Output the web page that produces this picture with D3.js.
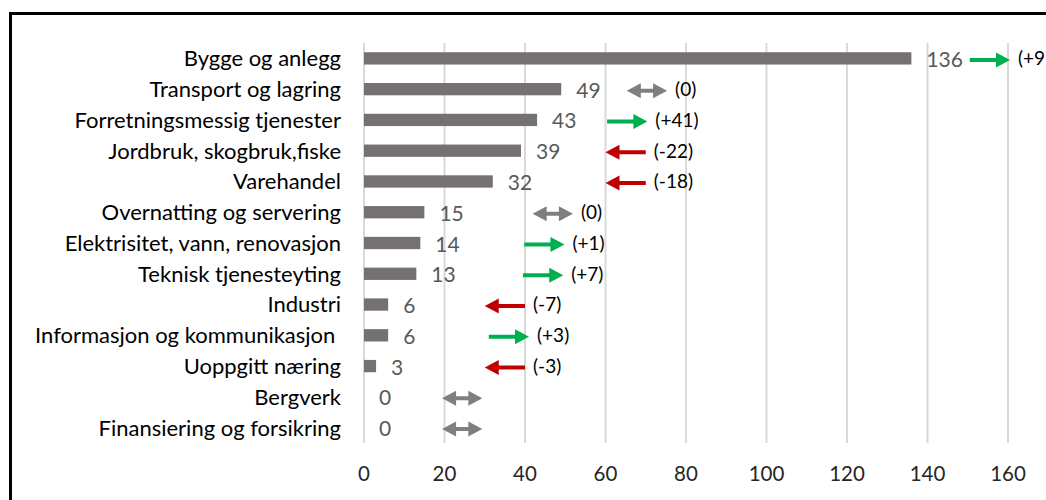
<!DOCTYPE html>
<html>
<head>
<meta charset="utf-8">
<script src="https://cdn.jsdelivr.net/npm/d3@7"></script>
<style>
  body { margin: 0; background: #fff; }
  svg { display: block; font-family: Lato, "Open Sans", sans-serif; }
</style>
</head>
<body>
<svg id="chart" width="1046" height="500"></svg>
<script>
// ---------------- DATA ----------------

const categories = [
  "Bygge og anlegg",
  "Transport og lagring",
  "Forretningsmessig tjenester",
  "Jordbruk, skogbruk,fiske",
  "Varehandel",
  "Overnatting og servering",
  "Elektrisitet, vann, renovasjon",
  "Teknisk tjenesteyting",
  "Industri",
  "Informasjon og kommunikasjon\u00a0",
  "Uoppgitt næring",
  "Bergverk",
  "Finansiering og forsikring",
];
const values = [136, 49, 43, 39, 32, 15, 14, 13, 6, 6, 3, 0, 0];
// change vs. previous period, null = arrow without label
const changes = [97, 0, 41, -22, -18, 0, 1, 7, -7, 3, -3, null, null];
// where each arrow starts, in axis units (hand-placed in the original)
const arrowFrom = [150.5, 65.3, 60.4, 60, 60, 41.9, 39.8, 39.5, 30, 31, 30, 19.4, 19.4];
const xTicks = [0, 20, 40, 60, 80, 100, 120, 140, 160];

// ---------------- SETUP ----------------

const svg = d3.select("#chart");
const x = d3.scaleLinear().domain([0, 160]).range([364, 1008]);
const y = d3.scaleBand().domain(categories).range([43, 443])
  .paddingInner(0.6).paddingOuter(0.3);
const mid = c => y(c) + y.bandwidth() / 2;

const rows = categories.map((c, i) => ({
  cat: c, value: values[i], change: changes[i], from: arrowFrom[i],
}));

// frame (runs past the right and bottom edge, as in the original crop)
svg.append("rect")
  .attr("x", 10.5).attr("y", 13.5)
  .attr("width", 1100).attr("height", 600)
  .attr("fill", "none").attr("stroke", "#000").attr("stroke-width", 3);

// ---------------- GRID + AXIS ----------------

svg.append("g")
  .selectAll("line")
  .data(xTicks)
  .join("line")
  .attr("x1", d => x(d)).attr("x2", d => x(d))
  .attr("y1", 43).attr("y2", 443)
  .attr("stroke", "#d9d9d9").attr("stroke-width", 2);

svg.append("g")
  .selectAll("text")
  .data(xTicks)
  .join("text")
  .attr("x", d => x(d)).attr("y", 474).attr("dy", "0.36em")
  .attr("text-anchor", "middle")
  .attr("font-size", 20.5).attr("fill", "#262626")
  .text(d => d);

// category labels
svg.append("g")
  .selectAll("text")
  .data(rows)
  .join("text")
  .attr("x", 341).attr("y", d => mid(d.cat)).attr("dy", "0.36em")
  .attr("text-anchor", "end")
  .attr("font-size", 22).attr("fill", "#000")
  .text(d => d.cat);

// ---------------- BARS ----------------

svg.append("g")
  .selectAll("rect")
  .data(rows)
  .join("rect")
  .attr("x", x(0)).attr("y", d => y(d.cat))
  .attr("width", d => x(d.value) - x(0))
  .attr("height", y.bandwidth())
  .attr("fill", "#767171");

svg.append("g")
  .selectAll("text")
  .data(rows)
  .join("text")
  .attr("x", d => x(d.value) + 15).attr("y", d => mid(d.cat) + 1).attr("dy", "0.36em")
  .attr("font-size", 21).attr("fill", "#595959")
  .text(d => d.value);

// ---------------- ARROWS ----------------

const headL = 14, headH = 7.5, shaft = 2;

function arrowPath(x1, x2, cy, dir) {
  // dir: 1 = right, -1 = left, 0 = both ends
  const p = d3.path();
  const l = dir <= 0 ? x1 + headL : x1;
  const r = dir >= 0 ? x2 - headL : x2;
  p.moveTo(l, cy - shaft);
  p.lineTo(r, cy - shaft);
  if (dir >= 0) { p.lineTo(r, cy - headH); p.lineTo(x2, cy); p.lineTo(r, cy + headH); }
  p.lineTo(r, cy + shaft);
  p.lineTo(l, cy + shaft);
  if (dir <= 0) { p.lineTo(l, cy + headH); p.lineTo(x1, cy); p.lineTo(l, cy - headH); }
  p.closePath();
  return p.toString();
}

const dirOf = d => d.change > 0 ? 1 : d.change < 0 ? -1 : 0;
const colorOf = d => d.change > 0 ? "#00b050" : d.change < 0 ? "#c00000" : "#7f7f7f";

svg.append("g")
  .selectAll("path")
  .data(rows)
  .join("path")
  .attr("d", d => arrowPath(x(d.from), x(d.from + 10), mid(d.cat) + 1.5, dirOf(d)))
  .attr("fill", colorOf);

svg.append("g")
  .selectAll("text")
  .data(rows.filter(d => d.change !== null))
  .join("text")
  .attr("x", d => x(d.from + 10) + 8).attr("y", d => mid(d.cat)).attr("dy", "0.36em")
  .attr("font-size", 19).attr("fill", "#000")
  .text(d => d.change > 0 ? `(+${d.change})` : `(${d.change})`);
</script>
</body>
</html>
